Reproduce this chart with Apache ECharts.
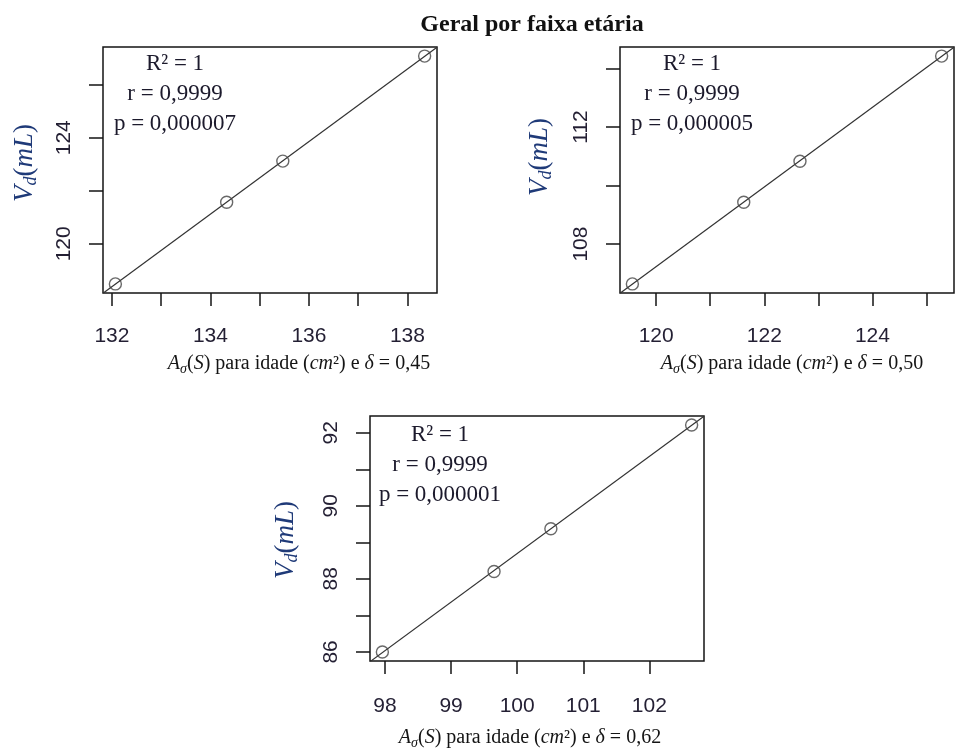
<!DOCTYPE html>
<html>
<head>
<meta charset="utf-8">
<title>Geral por faixa etária</title>
<script src="https://cdn.jsdelivr.net/npm/echarts@6.0.0/dist/echarts.min.js"></script>
<style>
  html, body { margin: 0; padding: 0; background: #fff; }
  #chart { width: 961px; height: 748px; }
</style>
</head>
<body>
<div id="chart"></div>
<script>
// Area A_sigma(S) by age (cm^2) vs. dead volume V_d (mL), one panel per delta
const deltaLabels = ['0,45', '0,50', '0,62'];

const areaD045 = [132.07, 134.33, 135.47, 138.35];
const volD045  = [118.49, 121.57, 123.12, 127.08];

const areaD050 = [119.56, 121.62, 122.66, 125.28];
const volD050  = [106.64, 109.43, 110.83, 114.42];

const areaD062 = [97.96, 99.65, 100.51, 102.64];
const volD062  = [86.00, 88.20, 89.37, 92.21];

// tick marks and labelled ticks
const xTicksD045 = [132, 133, 134, 135, 136, 137, 138];
const xLabelsD045 = [132, 134, 136, 138];
const yTicksD045 = [120, 122, 124, 126];
const yLabelsD045 = [120, 124];

const xTicksD050 = [120, 121, 122, 123, 124, 125];
const xLabelsD050 = [120, 122, 124];
const yTicksD050 = [108, 110, 112, 114];
const yLabelsD050 = [108, 112];

const xTicksD062 = [98, 99, 100, 101, 102];
const xLabelsD062 = [98, 99, 100, 101, 102];
const yTicksD062 = [86, 87, 88, 89, 90, 91, 92];
const yLabelsD062 = [86, 88, 90, 92];

const statR2 = ['1', '1', '1'];
const statR  = ['0,9999', '0,9999', '0,9999'];
const statP  = ['0,000007', '0,000005', '0,000001'];

// ---------------------------------------------------------------------------

const panels = [
  { xs: areaD045, ys: volD045, xt: xTicksD045, xl: xLabelsD045, yt: yTicksD045, yl: yLabelsD045,
    grid: { left: 103, top: 47, width: 334, height: 246 }, xMargin: 33,
    xName: [299, 364], yName: [25, 163], stats: [175, 94] },
  { xs: areaD050, ys: volD050, xt: xTicksD050, xl: xLabelsD050, yt: yTicksD050, yl: yLabelsD050,
    grid: { left: 620, top: 47, width: 334, height: 246 }, xMargin: 33,
    xName: [792, 364], yName: [540, 157], stats: [692, 94] },
  { xs: areaD062, ys: volD062, xt: xTicksD062, xl: xLabelsD062, yt: yTicksD062, yl: yLabelsD062,
    grid: { left: 370, top: 416, width: 334, height: 245 }, xMargin: 35,
    xName: [530, 738], yName: [286, 540], stats: [440, 465] }
];

// base-R style padded extent (4% each side)
function paddedRange(v) {
  const lo = Math.min.apply(null, v), hi = Math.max.apply(null, v);
  const pad = (hi - lo) * 0.04;
  return [lo - pad, hi + pad];
}

// least-squares fit
function fitLine(xs, ys) {
  const n = xs.length;
  let sx = 0, sy = 0, sxx = 0, sxy = 0;
  for (let i = 0; i < n; i++) { sx += xs[i]; sy += ys[i]; sxx += xs[i] * xs[i]; sxy += xs[i] * ys[i]; }
  const b = (n * sxy - sx * sy) / (n * sxx - sx * sx);
  const a = (sy - b * sx) / n;
  return { a, b };
}

const INK = '#141414';
const TICK_TXT = '#231f33';
const YNAME = '#1f3a78';
const SERIF = '"Liberation Serif", "Times New Roman", serif';
const SANS = '"Liberation Sans", Arial, sans-serif';

const grids = [], xAxes = [], yAxes = [], series = [], texts = [];

panels.forEach(function (p, k) {
  const xr = paddedRange(p.xs), yr = paddedRange(p.ys);
  grids.push(Object.assign({ show: true, borderColor: INK, borderWidth: 1.5, backgroundColor: 'transparent', containLabel: false }, p.grid));

  xAxes.push({
    type: 'value', gridIndex: k, min: xr[0], max: xr[1],
    axisLine: { show: false },
    splitLine: { show: false },
    axisTick: { show: true, inside: false, length: 13, customValues: p.xt, lineStyle: { color: INK, width: 1.5 } },
    axisLabel: { customValues: p.xl, margin: p.xMargin, color: TICK_TXT, fontFamily: SANS, fontSize: 21 }
  });
  yAxes.push({
    type: 'value', gridIndex: k, min: yr[0], max: yr[1],
    axisLine: { show: false },
    splitLine: { show: false },
    axisTick: { show: true, inside: false, length: 14, customValues: p.yt, lineStyle: { color: INK, width: 1.5 } },
    axisLabel: { customValues: p.yl, rotate: 90, margin: 28, color: TICK_TXT, fontFamily: SANS, fontSize: 21 }
  });

  const f = fitLine(p.xs, p.ys);
  series.push({
    type: 'line', xAxisIndex: k, yAxisIndex: k, silent: true, symbol: 'none', clip: true,
    lineStyle: { color: '#333', width: 1.2 },
    data: [[xr[0], f.a + f.b * xr[0]], [xr[1], f.a + f.b * xr[1]]],
    z: 2
  });
  series.push({
    type: 'scatter', xAxisIndex: k, yAxisIndex: k, symbol: 'circle', symbolSize: 12,
    itemStyle: { color: 'rgba(0,0,0,0)', borderColor: '#444', borderWidth: 1.4 },
    data: p.xs.map(function (x, i) { return [x, p.ys[i]]; }),
    z: 3
  });

  // x axis title
  texts.push({
    type: 'text', x: p.xName[0], y: p.xName[1], z: 10,
    style: {
      text: '{i|A}{sub|σ}{n|(}{i|S}{n|) para idade (}{i|cm}{n|²) e }{i|δ}{n| = ' + deltaLabels[k] + '}',
      align: 'center', verticalAlign: 'middle', textAlign: 'center', textVerticalAlign: 'middle',
      fill: INK,
      rich: {
        n: { fontFamily: SERIF, fontSize: 20, fill: INK, color: INK },
        i: { fontFamily: SERIF, fontSize: 20, fontStyle: 'italic', fill: INK, color: INK },
        sub: { fontFamily: SERIF, fontSize: 14, fontStyle: 'italic', fill: INK, color: INK, padding: [10, 0, 0, 0] }
      }
    }
  });
  // y axis title
  texts.push({
    type: 'text', x: p.yName[0], y: p.yName[1], rotation: Math.PI / 2, z: 10,
    style: {
      text: '{i|V}{sub|d}{n|(}{i|mL}{n|)}',
      align: 'center', verticalAlign: 'middle', textAlign: 'center', textVerticalAlign: 'middle',
      fill: YNAME,
      rich: {
        n: { fontFamily: SERIF, fontSize: 27, fill: YNAME, color: YNAME },
        i: { fontFamily: SERIF, fontSize: 27, fontStyle: 'italic', fill: YNAME, color: YNAME },
        sub: { fontFamily: SERIF, fontSize: 18, fontStyle: 'italic', fill: YNAME, color: YNAME, padding: [12, 0, 0, 0] }
      }
    }
  });
  // fit statistics
  texts.push({
    type: 'text', x: p.stats[0], y: p.stats[1], z: 10,
    style: {
      text: 'R² = ' + statR2[k] + '\nr = ' + statR[k] + '\np = ' + statP[k],
      font: '23px ' + SERIF, lineHeight: 30,
      align: 'center', verticalAlign: 'middle', textAlign: 'center', textVerticalAlign: 'middle',
      fill: '#1c1a2c'
    }
  });
});

texts.push({
  type: 'text', x: 532, y: 25, z: 10,
  style: {
    text: 'Geral por faixa etária',
    font: 'bold 24px ' + SERIF,
    align: 'center', verticalAlign: 'middle', textAlign: 'center', textVerticalAlign: 'middle',
    fill: '#111'
  }
});

const chart = echarts.init(document.getElementById('chart'), null, { renderer: 'canvas' });
chart.setOption({
  animation: false,
  backgroundColor: '#fff',
  grid: grids,
  xAxis: xAxes,
  yAxis: yAxes,
  series: series,
  graphic: { elements: texts }
});
</script>
</body>
</html>
